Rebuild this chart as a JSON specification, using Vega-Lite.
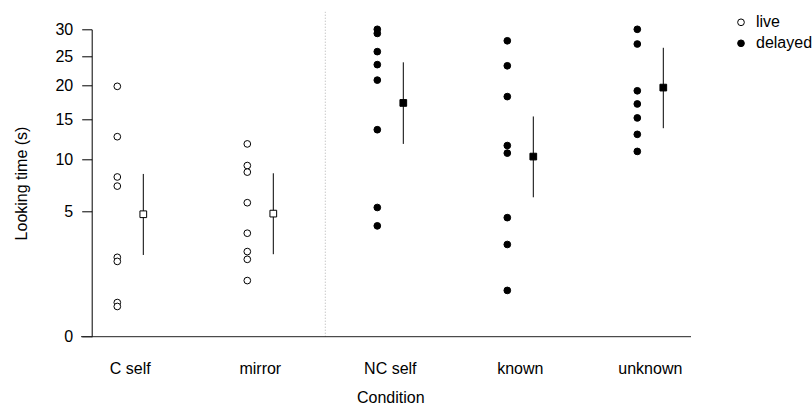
{
  "$schema": "https://vega.github.io/schema/vega-lite/v6.json",
  "autosize": {"type": "none"},
  "padding": {"left": 81, "top": 29.3, "right": 121, "bottom": 69.3},
  "width": 610,
  "height": 307.4,
  "config": {
    "view": {"stroke": null},
    "font": "Liberation Sans",
    "axis": {"labelFont": "Liberation Sans", "titleFont": "Liberation Sans", "labelColor": "black", "titleColor": "black", "titleFontWeight": "normal", "grid": false},
    "legend": {"labelFont": "Liberation Sans"}
  },
  "datasets": {
    "pts": [
      {"condition": "C self", "type": "live", "value": 19.9},
      {"condition": "C self", "type": "live", "value": 12.7},
      {"condition": "C self", "type": "live", "value": 8.1},
      {"condition": "C self", "type": "live", "value": 7.2},
      {"condition": "C self", "type": "live", "value": 2.0},
      {"condition": "C self", "type": "live", "value": 1.8},
      {"condition": "C self", "type": "live", "value": 0.37},
      {"condition": "C self", "type": "live", "value": 0.29},
      {"condition": "mirror", "type": "live", "value": 11.8},
      {"condition": "mirror", "type": "live", "value": 9.3},
      {"condition": "mirror", "type": "live", "value": 8.6},
      {"condition": "mirror", "type": "live", "value": 5.7},
      {"condition": "mirror", "type": "live", "value": 3.4},
      {"condition": "mirror", "type": "live", "value": 2.3},
      {"condition": "mirror", "type": "live", "value": 1.9},
      {"condition": "mirror", "type": "live", "value": 1.0},
      {"condition": "NC self", "type": "delayed", "value": 30.0},
      {"condition": "NC self", "type": "delayed", "value": 29.2},
      {"condition": "NC self", "type": "delayed", "value": 25.8},
      {"condition": "NC self", "type": "delayed", "value": 23.5},
      {"condition": "NC self", "type": "delayed", "value": 20.9},
      {"condition": "NC self", "type": "delayed", "value": 13.6},
      {"condition": "NC self", "type": "delayed", "value": 5.3},
      {"condition": "NC self", "type": "delayed", "value": 3.9},
      {"condition": "known", "type": "delayed", "value": 27.8},
      {"condition": "known", "type": "delayed", "value": 23.3},
      {"condition": "known", "type": "delayed", "value": 18.3},
      {"condition": "known", "type": "delayed", "value": 11.6},
      {"condition": "known", "type": "delayed", "value": 10.7},
      {"condition": "known", "type": "delayed", "value": 4.5},
      {"condition": "known", "type": "delayed", "value": 2.7},
      {"condition": "known", "type": "delayed", "value": 0.68},
      {"condition": "unknown", "type": "delayed", "value": 30.0},
      {"condition": "unknown", "type": "delayed", "value": 27.2},
      {"condition": "unknown", "type": "delayed", "value": 19.2},
      {"condition": "unknown", "type": "delayed", "value": 17.2},
      {"condition": "unknown", "type": "delayed", "value": 15.2},
      {"condition": "unknown", "type": "delayed", "value": 13.0},
      {"condition": "unknown", "type": "delayed", "value": 10.9}
    ],
    "means": [
      {"condition": "C self", "type": "live", "mean": 4.76, "lo": 2.12, "hi": 8.41},
      {"condition": "mirror", "type": "live", "mean": 4.81, "lo": 2.16, "hi": 8.48},
      {"condition": "NC self", "type": "delayed", "mean": 17.35, "lo": 11.8, "hi": 23.9},
      {"condition": "known", "type": "delayed", "mean": 10.3, "lo": 6.17, "hi": 15.4},
      {"condition": "unknown", "type": "delayed", "mean": 19.7, "lo": 13.8, "hi": 26.5}
    ],
    "sep": [{"condition": "NC self", "y0": 0, "y1": 33.5}]
  },
  "encoding": {
    "x": {
      "field": "condition", "type": "nominal",
      "sort": ["C self", "mirror", "NC self", "known", "unknown"],
      "scale": {"domain": ["C self", "mirror", "NC self", "known", "unknown"], "range": [-15.7, 634.3], "paddingInner": 0, "paddingOuter": 0},
      "axis": {"domain": false, "ticks": false, "labelAngle": 0, "labelFontSize": 16, "labelPadding": 24, "title": "Condition", "titleFontSize": 16, "titlePadding": 13}
    }
  },
  "layer": [
    {
      "data": {"name": "sep"},
      "mark": {"type": "rule", "color": "#b0b0b0", "strokeDash": [1, 2], "strokeWidth": 1},
      "encoding": {
        "x": {"field": "condition", "type": "nominal", "bandPosition": 0},
        "y": {"field": "y0", "type": "quantitative"},
        "y2": {"field": "y1"}
      }
    },
    {
      "data": {"name": "sep"},
      "mark": {"type": "rule", "color": "#222", "strokeWidth": 1},
      "encoding": {
        "x": null,
        "y": {"field": "y0", "type": "quantitative"}
      }
    },
    {
      "data": {"name": "pts"},
      "mark": {"type": "point", "shape": "circle", "filled": true, "stroke": "black", "strokeWidth": 1, "size": 45, "opacity": 1, "xOffset": -13},
      "encoding": {
        "y": {
          "field": "value", "type": "quantitative",
          "scale": {"type": "sqrt", "domain": [0, 30], "nice": false, "zero": true},
          "axis": {"values": [0, 5, 10, 15, 20, 25, 30], "tickSize": 10, "tickColor": "black", "domainColor": "black", "labelFontSize": 16, "labelPadding": 9, "offset": -10.7, "title": "Looking time (s)", "titleFontSize": 16, "titlePadding": 25}
        },
        "fill": {
          "field": "type", "type": "nominal",
          "scale": {"domain": ["live", "delayed"], "range": ["white", "black"]},
          "legend": {"title": null, "orient": "none", "legendX": 652, "legendY": -15, "symbolType": "circle", "symbolSize": 45, "symbolStrokeColor": "black", "symbolStrokeWidth": 1, "labelFontSize": 16, "labelOffset": 7, "rowPadding": 5, "padding": 0}
        }
      }
    },
    {
      "data": {"name": "means"},
      "mark": {"type": "rule", "color": "black", "strokeWidth": 1, "xOffset": 13},
      "encoding": {
        "y": {"field": "lo", "type": "quantitative"},
        "y2": {"field": "hi"}
      }
    },
    {
      "data": {"name": "means"},
      "mark": {"type": "point", "shape": "square", "filled": true, "stroke": "black", "strokeWidth": 1, "size": 45, "opacity": 1, "xOffset": 13},
      "encoding": {
        "y": {"field": "mean", "type": "quantitative"},
        "fill": {"field": "type", "type": "nominal"}
      }
    }
  ]
}
